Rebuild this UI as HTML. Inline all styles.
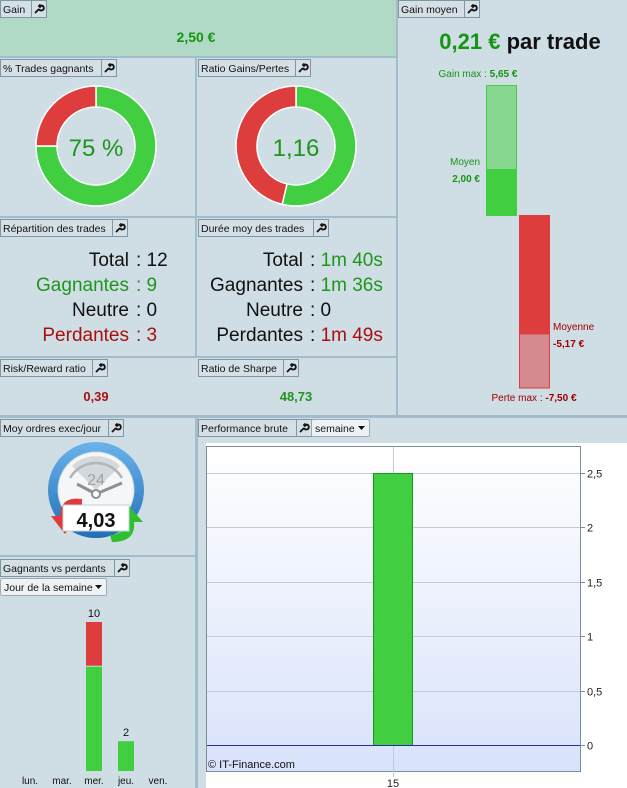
<!DOCTYPE html>
<html><head><meta charset="utf-8"><style>
html,body{margin:0;padding:0;background:#cfdde4;}
svg{display:block;font-family:"Liberation Sans",sans-serif;}
</style></head><body>
<svg id="s" width="627" height="788" viewBox="0 0 627 788" xmlns="http://www.w3.org/2000/svg">
<defs>
<linearGradient id="plotbg" x1="0" y1="0" x2="0" y2="1"><stop offset="0" stop-color="#ffffff"/><stop offset="1" stop-color="#d8e2fb"/></linearGradient>
<linearGradient id="ring" x1="0" y1="0" x2="0" y2="1"><stop offset="0" stop-color="#6ab3ea"/><stop offset="1" stop-color="#1f6fb8"/></linearGradient>
<g id="wr"><path d="M-3,4 L1,0 M1,0 a2.5,2.5 0 1 0 2.5,-3.5 l-1.5,1.5 -1,-1 1.5,-1.5" stroke="#111" stroke-width="1.8" fill="none"/></g>
</defs>
<rect width="627" height="788" fill="#cfdde4"/>
<rect x="0" y="0" width="396" height="56" fill="#b0dac5"/>
<g fill="#a3bccb">
<rect x="396" y="0" width="2" height="416"/>
<rect x="0" y="56" width="396" height="2"/>
<rect x="195" y="58" width="2" height="300"/>
<rect x="0" y="216" width="396" height="2"/>
<rect x="0" y="356" width="396" height="2"/>
<rect x="0" y="415" width="627" height="3"/>
<rect x="195" y="418" width="3" height="370"/>
<rect x="0" y="555" width="195" height="2"/>
</g>
<g id="headers" font-size="10.5" fill="#111"></g>
<text x="196" y="42" text-anchor="middle" font-size="14" font-weight="bold" fill="#149614">2,50 €</text>
<g id="donuts"></g>
<text x="96" y="156" text-anchor="middle" font-size="24" fill="#1e961e">75 %</text>
<text x="296" y="156" text-anchor="middle" font-size="24" fill="#1e961e">1,16</text>
<g font-size="19">
<text x="129" y="266" text-anchor="end" fill="#111">Total</text><text x="136" y="266" fill="#111">: 12</text>
<text x="129" y="291" text-anchor="end" fill="#1e961e">Gagnantes</text><text x="136" y="291" fill="#1e961e">: 9</text>
<text x="129" y="316" text-anchor="end" fill="#111">Neutre</text><text x="136" y="316" fill="#111">: 0</text>
<text x="129" y="341" text-anchor="end" fill="#a81010">Perdantes</text><text x="136" y="341" fill="#a81010">: 3</text>
</g>
<g font-size="19">
<text x="303" y="266" text-anchor="end" fill="#111">Total</text><text x="310" y="266" fill="#111">: <tspan fill="#1e961e">1m 40s</tspan></text>
<text x="303" y="291" text-anchor="end" fill="#111">Gagnantes</text><text x="310" y="291" fill="#111">: <tspan fill="#1e961e">1m 36s</tspan></text>
<text x="303" y="316" text-anchor="end" fill="#111">Neutre</text><text x="310" y="316" fill="#111">: 0</text>
<text x="303" y="341" text-anchor="end" fill="#111">Perdantes</text><text x="310" y="341" fill="#111">: <tspan fill="#a81010">1m 49s</tspan></text>
</g>
<text x="96" y="401" text-anchor="middle" font-size="13" font-weight="bold" fill="#a81010">0,39</text>
<text x="296" y="401" text-anchor="middle" font-size="13" font-weight="bold" fill="#1e961e">48,73</text>
<text x="520" y="49" text-anchor="middle" font-size="22" font-weight="bold"><tspan fill="#149614">0,21 €</tspan> <tspan fill="#111">par trade</tspan></text>
<g id="gainbars"></g>
<text x="478" y="77" text-anchor="middle" font-size="10" fill="#149614">Gain max : <tspan font-weight="bold">5,65 €</tspan></text>
<text x="480" y="165" text-anchor="end" font-size="10" fill="#149614">Moyen</text>
<text x="480" y="182" text-anchor="end" font-size="10" font-weight="bold" fill="#149614">2,00 €</text>
<text x="553" y="330" font-size="10" fill="#a00000">Moyenne</text>
<text x="553" y="347" font-size="10" font-weight="bold" fill="#a00000">-5,17 €</text>
<text x="534" y="401" text-anchor="middle" font-size="10" fill="#a00000">Perte max : <tspan font-weight="bold">-7,50 €</tspan></text>
<g>
<circle cx="96" cy="490" r="48" fill="url(#ring)"/>
<circle cx="96" cy="490" r="38" fill="#f4f6f7" stroke="#d0d8de"/>
<path d="M96,490 L72,466 A34,34 0 0 1 120,466 Z" fill="#d4d8db"/>
<path d="M70,478 A30,30 0 0 1 122,478" stroke="#b0b6ba" stroke-width="2.5" fill="none"/>
<text x="96" y="485" text-anchor="middle" font-size="16" fill="#9aa2a8">24</text>
<line x1="96" y1="494" x2="77" y2="484" stroke="#8a9298" stroke-width="3"/>
<line x1="96" y1="494" x2="122" y2="483" stroke="#8a9298" stroke-width="3"/>
<circle cx="96" cy="494" r="4" fill="#fff" stroke="#8a9298" stroke-width="2"/>
<path d="M82,499 Q60,496 60,516 L51,516 L65,534 L78,516 L70,516 Q71,506 82,505 Z" fill="#e03a3a"/>
<path d="M112,542 Q136,542 134,522 L143,522 L129,506 L117,522 L125,522 Q125,534 110,535 Z" fill="#2fbf2f"/>
<rect x="63" y="505" width="66" height="26" fill="#fff" stroke="#c9d0d5"/>
<text x="96" y="527" text-anchor="middle" font-size="20" font-weight="bold" fill="#111">4,03</text>
</g>
<g id="wl"></g>
<g id="perf"></g>
</svg>
<script>
var NS="http://www.w3.org/2000/svg";
function mk(t,a,p){var e=document.createElementNS(NS,t);for(var k in a)e.setAttribute(k,a[k]);(p||document.getElementById('s')).appendChild(e);return e;}
var H=document.getElementById('headers');
var hdrs=[["Gain",0,0,31],["Gain moyen",398,0,66],["% Trades gagnants",0,59,101],["Ratio Gains/Pertes",198,59,97],["Répartition des trades",0,219,112],["Durée moy des trades",198,219,115],["Risk/Reward ratio",0,359,92],["Ratio de Sharpe",198,359,85],["Moy ordres exec/jour",0,419,108],["Gagnants vs perdants",0,559,114],["Performance brute",198,419,98]];
hdrs.forEach(function(h){
  var g=mk('g',{},H);
  
  
  mk('rect',{x:h[1]+0.5,y:h[2]+0.5,width:h[3],height:17,fill:'#d4e0e6',stroke:'#7f96a3'},g);
  var t=mk('text',{x:h[1]+3,y:h[2]+13},g);t.textContent=h[0];
  var w=mk('g',{},g);
  
  
  mk('rect',{x:h[1]+h[3]+0.5,y:h[2]+0.5,width:15,height:17,fill:'#d4e0e6',stroke:'#7f96a3'},w);
  mk('use',{href:'#wr',x:h[1]+h[3]+7,y:h[2]+9},w);
});
function dd(x,y,w,label,name){
  var g=mk('g',{},H);
  
  
  mk('rect',{x:x+0.5,y:y+0.5,width:w,height:17,fill:'#eef2f4',stroke:'#9aabb5',rx:2},g);
  var t=mk('text',{x:x+4,y:y+13},g);t.textContent=label;
  mk('path',{d:'M'+(x+w-11)+','+(y+7)+' h7 l-3.5,4 z',fill:'#111'},g);
}
dd(311,419,58,"semaine","period-dropdown");
dd(0,578,106,"Jour de la semaine","grouping-dropdown");

var donutCenters=[96,296];
var donutWin=[0.75,1.16/(1+1.16)];
var D=document.getElementById('donuts');
function arc(cx,cy,r0,r1,a0,a1,fill){
  function pt(r,a){return [cx+r*Math.sin(a),cy-r*Math.cos(a)];}
  var lg=(a1-a0)>Math.PI?1:0;
  var p1=pt(r1,a0),p2=pt(r1,a1),p3=pt(r0,a1),p4=pt(r0,a0);
  return mk('path',{d:'M'+p1+' A'+r1+','+r1+' 0 '+lg+' 1 '+p2+' L'+p3+' A'+r0+','+r0+' 0 '+lg+' 0 '+p4+' Z',fill:fill,stroke:'#ffffff','stroke-width':1.5},D);
}
donutWin.forEach(function(v,i){
  var cx=donutCenters[i],a=v*2*Math.PI;
  var g=arc(cx,146,39,60,0,a,'#41cf41');
  
  
  var r=arc(cx,146,39,60,a,2*Math.PI-0.0001,'#de3d3d');
  
  
});

var gainMax=[5.65],gainAvg=[2.00],lossAvg=[5.17],lossMax=[7.50];
var G=document.getElementById('gainbars');
var gBase=215,gScale=23;
function gy(v){return v*gScale;}
var e;
e=mk('rect',{x:486.5,y:gBase-gy(gainMax[0])+0.5,width:30,height:gy(gainMax[0]),fill:'#86d78f',stroke:'#41cf41'},G);

e=mk('rect',{x:487,y:gBase-gy(gainAvg[0]),width:30,height:gy(gainAvg[0]),fill:'#41cf41'},G);

e=mk('rect',{x:519.5,y:gBase+0.5,width:30,height:gy(lossMax[0]),fill:'#d48a8e',stroke:'#de3d3d'},G);

e=mk('rect',{x:519.5,y:gBase+0.5,width:30,height:gy(lossAvg[0]),fill:'#de3d3d'},G);


var days=["lun.","mar.","mer.","jeu.","ven."];
var winners=[0,0,7,2,0];
var losers=[0,0,3,0,0];
var W=document.getElementById('wl');
var wlBase=771,wlScale=14.9;
function wx(i){return 30+i*32;}
function wh(v){return v*wlScale;}
days.forEach(function(d,i){
  var t=mk('text',{x:wx(i),y:784,'text-anchor':'middle','font-size':10,fill:'#111'},W);t.textContent=d;
  
  var tot=winners[i]+losers[i];
  if(tot>0){
    var b=mk('rect',{x:wx(i)-8,y:wlBase-wh(winners[i]),width:16,height:wh(winners[i]),fill:'#41cf41'},W);
    
    if(losers[i]>0){
      var r=mk('rect',{x:wx(i)-8,y:wlBase-wh(tot),width:16,height:wh(losers[i])-1,fill:'#de3d3d'},W);
      
    }
    var l=mk('text',{x:wx(i),y:wlBase-wh(tot)-5,'text-anchor':'middle','font-size':11,fill:'#111'},W);l.textContent=tot;
    
  }
});

var weeks=["15"];
var perf=[2.5];
var yTicks=[0,0.5,1,1.5,2,2.5];
var yTickLabels=["0","0,5","1","1,5","2","2,5"];
var P=document.getElementById('perf');
var pl=206,pr=580,pt=446,pb=771;
function py(v){return 745-v*108.8;}
function px(i){return pl+(pr-pl)*(i+0.5)/weeks.length;}
e=mk('rect',{x:198,y:443,width:429,height:345,fill:'#ffffff'},P);

e=mk('rect',{x:198,y:443,width:8,height:345,fill:'#cfdde4'},P);
e=mk('rect',{x:pl+0.5,y:pt+0.5,width:pr-pl,height:pb-pt,fill:'url(#plotbg)',stroke:'#7a8e99'},P);

yTicks.forEach(function(v,i){
  var y=Math.round(py(v))+0.5;
  if(v!==0){var g=mk('line',{x1:pl+1,x2:pr,y1:y,y2:y,stroke:'#c2ccd8'},P);}
  mk('line',{x1:pr,x2:pr+5,y1:y,y2:y,stroke:'#7a8e99'},P);
  var t=mk('text',{x:587,y:y+4,'font-size':11,fill:'#222'},P);t.textContent=yTickLabels[i];
  
});
weeks.forEach(function(w,i){
  var x=Math.round(px(i))+0.5;
  mk('line',{x1:x,x2:x,y1:pt+1,y2:pb+6,stroke:'#c2ccd8'},P);
  var b=mk('rect',{x:px(i)-19.5,y:py(perf[i])+0.5,width:39,height:py(0)-py(perf[i]),fill:'#41cf41',stroke:'#159a15'},P);
  
  var t=mk('text',{x:px(i),y:787,'text-anchor':'middle','font-size':11,fill:'#222'},P);t.textContent=w;
  
});
e=mk('line',{x1:pl+1,x2:pr,y1:Math.round(py(0))+0.5,y2:Math.round(py(0))+0.5,stroke:'#2a2aa0'},P);

e=mk('text',{x:208,y:768,'font-size':11,fill:'#111'},P);e.textContent="© IT-Finance.com";

</script>
</body></html>
